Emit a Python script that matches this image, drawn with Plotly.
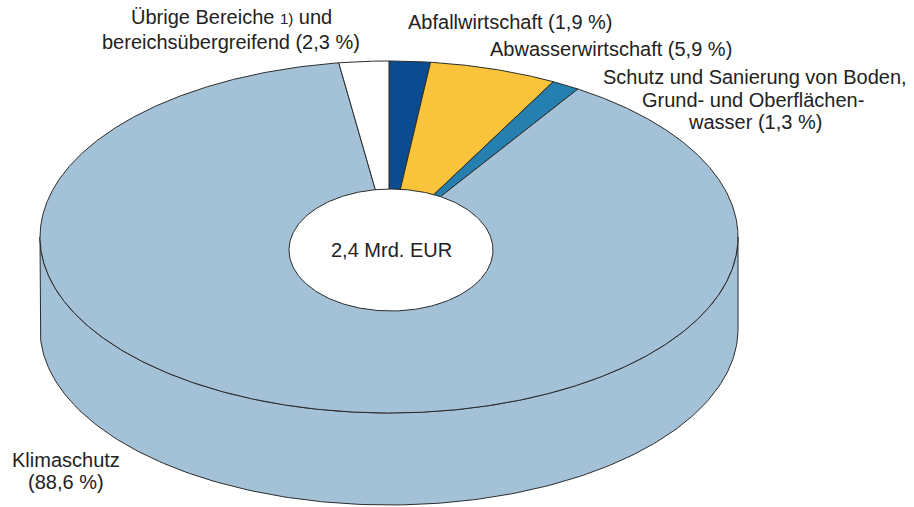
import numpy as np
import plotly.graph_objects as go

# ---- data ----
categories = [
    "Abfallwirtschaft",
    "Abwasserwirtschaft",
    "Schutz und Sanierung von Boden, Grund- und Oberflächenwasser",
    "Klimaschutz",
    "Übrige Bereiche und bereichsübergreifend",
]
shares = [1.9, 5.9, 1.3, 88.6, 2.3]
slice_colors = ["#0b4c91", "#f9c33c", "#2580af", "#a3c1d7", "#ffffff"]
total_label = "2,4 Mrd. EUR"

# ---- geometry (pixel-like layout space) ----
W, H = 914, 507
CX, CY, RX, RY, DEPTH = 389, 237, 349, 176, 92
HX, HY, HRX, HRY = 391, 250, 102, 61
EDGE = "#2b2b2b"


def pt(theta_deg, dy=0.0):
    t = np.radians(theta_deg)
    return CX + RX * np.sin(t), CY - RY * np.cos(t) + dy


fig = go.Figure()

total = sum(shares)
bounds = []
acc = 0.0
for s in shares:
    a0 = acc / total * 360.0
    acc += s
    a1 = acc / total * 360.0
    bounds.append((a0, a1))

# side walls (front half visible: 90..270 deg)
for (a0, a1), col in zip(bounds, slice_colors):
    lo, hi = max(a0, 90.0), min(a1, 270.0)
    if hi <= lo:
        continue
    th = np.linspace(lo, hi, 200)
    xt, yt = pt(th)
    xb, yb = pt(th[::-1], DEPTH)
    xs = np.concatenate([xt, xb, xt[:1]])
    ys = np.concatenate([yt, yb, yt[:1]])
    fig.add_trace(go.Scatter(x=xs, y=ys, mode="lines", fill="toself",
                             fillcolor=col, line=dict(color=EDGE, width=1),
                             hoverinfo="skip", showlegend=False))

# top face slices
for (a0, a1), col in zip(bounds, slice_colors):
    n = max(int((a1 - a0) * 3), 10)
    th = np.linspace(a0, a1, n)
    xa, ya = pt(th)
    xs = np.concatenate([[CX], xa, [CX]])
    ys = np.concatenate([[CY], ya, [CY]])
    fig.add_trace(go.Scatter(x=xs, y=ys, mode="lines", fill="toself",
                             fillcolor=col, line=dict(color=EDGE, width=1),
                             hoverinfo="skip", showlegend=False))

# hole
th = np.linspace(0, 360, 300)
t = np.radians(th)
fig.add_trace(go.Scatter(x=HX + HRX * np.sin(t), y=HY - HRY * np.cos(t),
                         mode="lines", fill="toself", fillcolor="#ffffff",
                         line=dict(color=EDGE, width=1),
                         hoverinfo="skip", showlegend=False))

FONT = dict(family="Liberation Sans, Arial, sans-serif", size=20, color="#222222")


def label(x, y, text, anchor="center"):
    fig.add_annotation(x=x, y=y, xref="x", yref="y", text=text, showarrow=False,
                       xanchor=anchor, yanchor="middle", font=FONT)


label(231, 17, "Übrige Bereiche <span style='font-size:15px'>1)</span> und")
label(231, 42, "bereichsübergreifend (2,3 %)")
label(510, 22, f"{categories[0]} ({shares[0]:.1f} %)".replace(".", ","))
label(611, 49, f"{categories[1]} ({shares[1]:.1f} %)".replace(".", ","))
label(755, 77, "Schutz und Sanierung von Boden,")
label(753, 100, "Grund- und Oberflächen-")
label(755, 122, f"wasser ({shares[2]:.1f} %)".replace(".", ","))
label(66, 460, categories[3])
label(66, 482, f"({shares[3]:.1f} %)".replace(".", ","))
label(HX, HY, total_label)

fig.update_layout(
    width=W, height=H, margin=dict(l=0, r=0, t=0, b=0),
    paper_bgcolor="white", plot_bgcolor="white",
    xaxis=dict(range=[0, W], visible=False, fixedrange=True),
    yaxis=dict(range=[H, 0], visible=False, fixedrange=True),
    hovermode=False,
)
fig.write_html("out.html", config={"displayModeBar": False})
